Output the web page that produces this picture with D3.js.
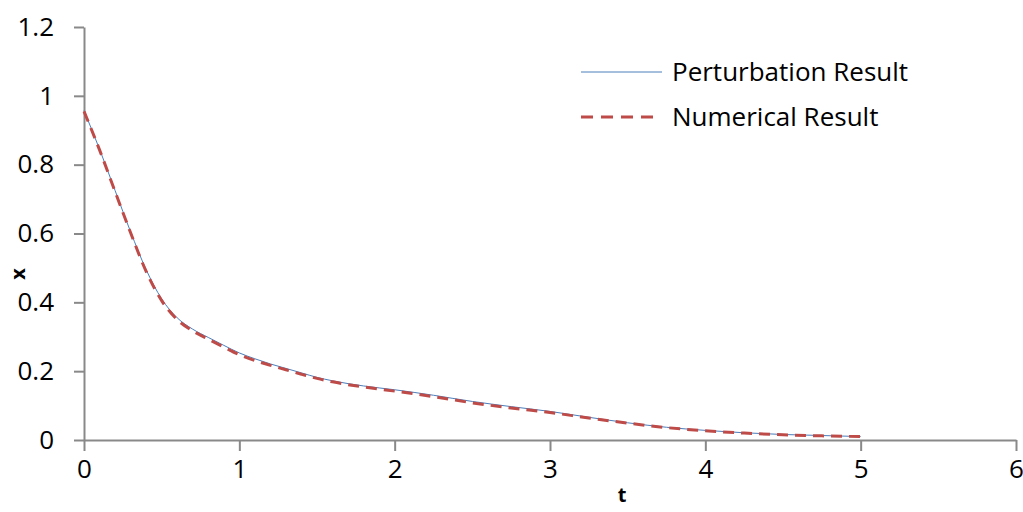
<!DOCTYPE html>
<html>
<head>
<meta charset="utf-8">
<script src="https://cdn.jsdelivr.net/npm/d3@7"></script>
<style>
  html, body { margin: 0; padding: 0; background: #fff; }
  #chart { width: 1023px; height: 512px; overflow: hidden; }
  text { font-family: "Open Sans", Lato, sans-serif; fill: #000; }
</style>
</head>
<body>
<div id="chart"></div>
<script>
// time points (t)
const tValues = [0, 0.1, 0.2, 0.3, 0.4, 0.5, 0.6, 0.7, 0.8, 0.9, 1.0, 1.1, 1.2, 1.3, 1.4, 1.5, 1.6, 1.8, 2.0,
  2.25, 2.5, 2.75, 3.0, 3.25, 3.5, 3.75, 4.0, 4.25, 4.5, 4.75, 5.0];

// x(t) from the perturbation solution
const perturbation = [0.957, 0.845, 0.725, 0.605, 0.495, 0.41, 0.355, 0.322, 0.298, 0.275, 0.253, 0.236, 0.221,
  0.208, 0.195, 0.182, 0.172, 0.157, 0.146, 0.13, 0.112, 0.097, 0.083, 0.066, 0.05, 0.037, 0.028, 0.021,
  0.016, 0.013, 0.01];

// x(t) from the numerical solution
const numerical = [0.955, 0.843, 0.722, 0.602, 0.49, 0.405, 0.35, 0.317, 0.293, 0.27, 0.248, 0.231, 0.217,
  0.204, 0.191, 0.179, 0.169, 0.154, 0.142, 0.126, 0.108, 0.093, 0.08, 0.064, 0.049, 0.036, 0.027, 0.02,
  0.015, 0.012, 0.01];

const xTicks = [0, 1, 2, 3, 4, 5, 6];
const yTicks = [0, 0.2, 0.4, 0.6, 0.8, 1, 1.2];
const seriesNames = ['Perturbation Result', 'Numerical Result'];

// layout
const width = 1023, height = 512;
const plot = { left: 84, right: 1016, top: 27, bottom: 440 };
const axisColor = '#898989';
const fontSize = 26;

const svg = d3.select('#chart')
  .append('svg')
  .attr('width', width)
  .attr('height', height);

const x = d3.scaleLinear().domain([0, 6]).range([plot.left, plot.right]);
const y = d3.scaleLinear().domain([0, 1.2]).range([plot.bottom, plot.top]);

// X axis
const xAxis = svg.append('g')
  .attr('transform', `translate(0,${plot.bottom})`)
  .call(d3.axisBottom(x).tickValues(xTicks).tickFormat(d3.format('d')).tickSize(11).tickSizeOuter(0).tickPadding(9));
xAxis.select('.domain').attr('stroke', axisColor).attr('stroke-width', 2);
xAxis.selectAll('.tick line').attr('stroke', axisColor).attr('stroke-width', 2);
xAxis.selectAll('.tick text').attr('font-size', fontSize).attr('font-family', '"Open Sans", Lato, sans-serif');

// Y axis
const yAxis = svg.append('g')
  .attr('transform', `translate(${plot.left},0)`)
  .call(d3.axisLeft(y).tickValues(yTicks).tickFormat(d => String(+d.toFixed(1))).tickSize(10).tickSizeOuter(0).tickPadding(20));
yAxis.select('.domain').attr('stroke', axisColor).attr('stroke-width', 2);
yAxis.selectAll('.tick line').attr('stroke', axisColor).attr('stroke-width', 2);
yAxis.selectAll('.tick text').attr('font-size', fontSize).attr('font-family', '"Open Sans", Lato, sans-serif');

// axis titles
svg.append('text')
  .attr('x', 622)
  .attr('y', 502)
  .attr('text-anchor', 'middle')
  .attr('font-size', 20)
  .attr('font-weight', 'bold')
  .text('t');

svg.append('text')
  .attr('transform', 'translate(25,274) rotate(-90)')
  .attr('text-anchor', 'middle')
  .attr('font-size', 20)
  .attr('font-weight', 'bold')
  .text('x');

// lines
const line = vals => d3.line()
  .x((d, i) => x(tValues[i]))
  .y(d => y(d))
  .curve(d3.curveMonotoneX)(vals);

svg.append('path')
  .attr('d', line(perturbation))
  .attr('fill', 'none')
  .attr('stroke', '#4a7ebb')
  .attr('stroke-width', 1);

svg.append('path')
  .attr('d', line(numerical))
  .attr('fill', 'none')
  .attr('stroke', '#be4b48')
  .attr('stroke-width', 3)
  .attr('stroke-dasharray', '11,7');

// legend
const legend = svg.append('g').attr('transform', 'translate(581,72)');
legend.append('line')
  .attr('x1', 0).attr('x2', 81).attr('y1', 0).attr('y2', 0)
  .attr('stroke', '#4a7ebb').attr('stroke-width', 1);
legend.append('line')
  .attr('x1', 0).attr('x2', 77).attr('y1', 45).attr('y2', 45)
  .attr('stroke', '#be4b48').attr('stroke-width', 3)
  .attr('stroke-dasharray', '12,8');
legend.selectAll('text.item')
  .data(seriesNames)
  .join('text')
  .attr('class', 'item')
  .attr('x', 91)
  .attr('y', (d, i) => i * 45)
  .attr('dy', '0.35em')
  .attr('font-size', fontSize)
  .text(d => d);
</script>
</body>
</html>
